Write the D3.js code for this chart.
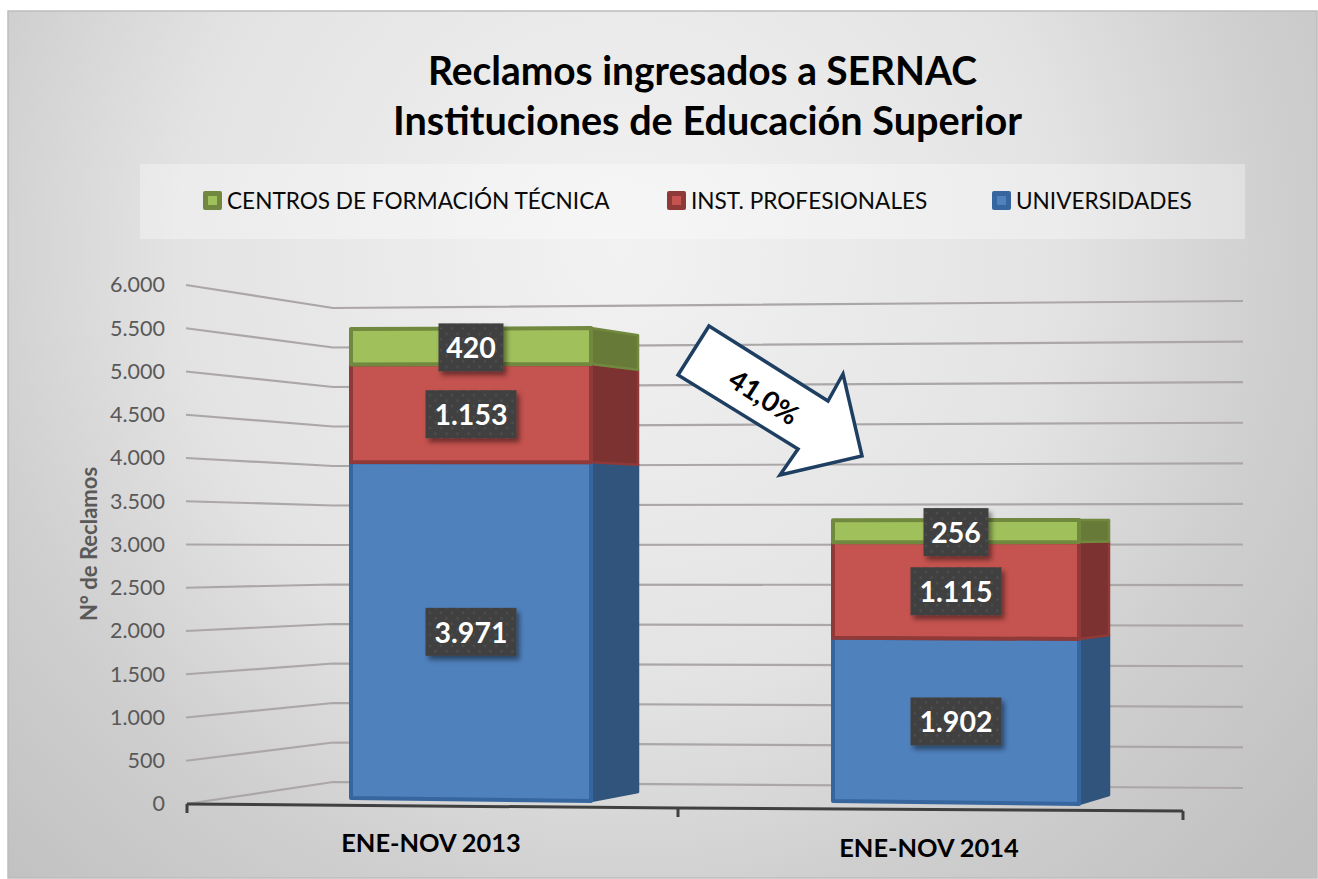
<!DOCTYPE html>
<html>
<head>
<meta charset="utf-8">
<script src="https://cdnjs.cloudflare.com/ajax/libs/d3/7.8.5/d3.min.js"></script>
<style>
  html, body { margin: 0; padding: 0; background: #fff; }
  svg { display: block; font-family: Lato, "Open Sans", sans-serif; }
</style>
</head>
<body>
<svg id="chart" width="1318" height="879"></svg>
<script>
const periods = ['ENE-NOV 2013', 'ENE-NOV 2014'];
const seriesNames = ['UNIVERSIDADES', 'INST. PROFESIONALES', 'CENTROS DE FORMACIÓN TÉCNICA'];
const universidades = [3971, 1902];
const institutos = [1153, 1115];
const centros = [420, 256];
const yTicks = [0, 500, 1000, 1500, 2000, 2500, 3000, 3500, 4000, 4500, 5000, 5500, 6000];
const titleLines = ['Reclamos ingresados a SERNAC', 'Instituciones de Educación Superior'];

const faceColors = ['#4f81bd', '#c5534f', '#a0c05c'];
const edgeColors = ['#37659e', '#8f3a38', '#71893f'];
const sideColors = ['#31547d', '#7c3230', '#677a38'];

const svg = d3.select('#chart');
const defs = svg.append('defs');

const bg = defs.append('radialGradient')
    .attr('id', 'bg-gradient')
    .attr('gradientUnits', 'userSpaceOnUse')
    .attr('cx', 620).attr('cy', 250).attr('r', 900);
bg.append('stop').attr('offset', '0%').attr('stop-color', '#f2f2f2');
bg.append('stop').attr('offset', '49%').attr('stop-color', '#e3e3e3');
bg.append('stop').attr('offset', '73%').attr('stop-color', '#cfcfcf');
bg.append('stop').attr('offset', '100%').attr('stop-color', '#c0c0c0');

const dots = defs.append('pattern')
    .attr('id', 'label-dots')
    .attr('patternUnits', 'userSpaceOnUse')
    .attr('width', 11).attr('height', 11);
dots.append('rect').attr('width', 11).attr('height', 11).attr('fill', '#404040');
dots.append('circle').attr('cx', 3).attr('cy', 3).attr('r', 1.3).attr('fill', '#4e4e4e');
dots.append('circle').attr('cx', 8.5).attr('cy', 8.5).attr('r', 1.3).attr('fill', '#4e4e4e');

const shadow = defs.append('filter')
    .attr('id', 'label-shadow')
    .attr('x', '-20%').attr('y', '-20%')
    .attr('width', '150%').attr('height', '150%');
shadow.append('feDropShadow')
    .attr('dx', 3).attr('dy', 4)
    .attr('stdDeviation', 2.5)
    .attr('flood-color', '#000')
    .attr('flood-opacity', 0.45);

// background panel
svg.append('rect')
    .attr('x', 8).attr('y', 11)
    .attr('width', 1309).attr('height', 867)
    .attr('fill', 'url(#bg-gradient)')
    .attr('stroke', '#bdbdbd')
    .attr('stroke-width', 1.5);

// title
svg.append('g').selectAll('text')
    .data(titleLines)
    .join('text')
    .attr('x', (d, i) => i === 0 ? 702.5 : 707.5)
    .attr('y', (d, i) => i === 0 ? 85 : 135)
    .attr('text-anchor', 'middle')
    .attr('font-size', 39.5)
    .attr('font-weight', 700)
    .attr('fill', '#000')
    .attr('textLength', (d, i) => i === 0 ? 549 : 629)
    .attr('lengthAdjust', 'spacingAndGlyphs')
    .text(d => d);

// legend band
svg.append('rect')
    .attr('x', 140).attr('y', 164)
    .attr('width', 1105).attr('height', 75)
    .attr('fill', '#fff').attr('opacity', 0.32);

const legendX = d3.scaleOrdinal().domain(seriesNames).range([992, 667, 203]);
const legendItems = svg.append('g').selectAll('g')
    .data(seriesNames)
    .join('g')
    .attr('transform', d => `translate(${legendX(d)},191)`);
legendItems.append('rect')
    .attr('width', 19).attr('height', 19).attr('rx', 2)
    .attr('fill', (d, i) => edgeColors[i]);
legendItems.append('rect')
    .attr('x', 5).attr('y', 5)
    .attr('width', 9).attr('height', 9)
    .attr('fill', (d, i) => faceColors[i]);
legendItems.append('text')
    .attr('x', 24).attr('y', 18)
    .attr('font-size', 22.6)
    .attr('fill', '#0a0a0a')
    .text(d => d);

// the three planes of the fake 3D floor: front edge, back-left corner, back-right end
const yFront = d3.scaleLinear().domain([0, 6000]).range([804, 285]);
const yCorner = d3.scaleLinear().domain([0, 6000]).range([782, 308]);
const yEnd = d3.scaleLinear().domain([0, 6000]).range([788, 301]);

const gridLine = d3.line().x(d => d[0]).y(d => d[1]);
svg.append('g').selectAll('path')
    .data(yTicks)
    .join('path')
    .attr('d', v => gridLine([[186, yFront(v)], [333, yCorner(v)], [1243, yEnd(v)]]))
    .attr('fill', 'none')
    .attr('stroke', '#aca7a7')
    .attr('stroke-width', 2.2);

// y axis labels
const numberLocale = d3.formatLocale({ decimal: ',', thousands: '.', grouping: [3], currency: ['$', ''] });
const yAxis = svg.append('g')
    .attr('transform', 'translate(172,0)')
    .call(d3.axisLeft(yFront).tickValues(yTicks).tickSize(0).tickPadding(7).tickFormat(numberLocale.format(',')));
yAxis.select('.domain').remove();
yAxis.selectAll('text')
    .attr('font-family', 'Lato, "Open Sans", sans-serif')
    .attr('font-size', 21.5)
    .attr('fill', '#595959');

svg.append('text')
    .attr('transform', 'translate(97,544) rotate(-90)')
    .attr('text-anchor', 'middle')
    .attr('font-size', 22)
    .attr('font-weight', 700)
    .attr('fill', '#595959')
    .text('N° de Reclamos');

// x axis
const xAxisX = d3.scaleLinear().domain([0, 1, 2]).range([187, 678, 1183]);
const xAxisY = d3.scaleLinear().domain([0, 1, 2]).range([804, 808, 811]);
svg.append('path')
    .attr('d', gridLine([0, 1, 2].map(i => [xAxisX(i), xAxisY(i)])))
    .attr('fill', 'none').attr('stroke', '#404040').attr('stroke-width', 3);
svg.append('g').selectAll('line')
    .data([0, 1, 2])
    .join('line')
    .attr('x1', xAxisX).attr('x2', xAxisX)
    .attr('y1', xAxisY)
    .attr('y2', i => xAxisY(i) + 9)
    .attr('stroke', '#404040').attr('stroke-width', 3);

// bars: each one has its own scale per vertical edge since the plot is in perspective
const barGeometry = [
    { x0: 351, x1: 591, x2: 638, left: [798, 0.0846], right: [801, 0.0853], side: [792, 0.0824] },
    { x0: 833, x1: 1079, x2: 1109, left: [801, 0.0858], right: [804, 0.0868], side: [795, 0.0840] }
];
const edgeScale = e => d3.scaleLinear().domain([0, 1000]).range([e[0], e[0] - e[1] * 1000]);
const stackValues = periods.map((p, i) => ({ period: p, values: [universidades[i], institutos[i], centros[i]] }));
const stacked = stackValues.map(d => {
    let run = 0;
    return d.values.map(v => { const seg = [run, run + v, v]; run += v; return seg; });
});

const line = d3.line();
const barLayer = svg.append('g');
const labelLayer = svg.append('g');
stacked.forEach((segments, b) => {
    const g = barGeometry[b];
    const yL = edgeScale(g.left), yR = edgeScale(g.right), yS = edgeScale(g.side);
    const barG = barLayer.append('g');

    barG.selectAll('path.side')
        .data(segments)
        .join('path')
        .attr('class', 'side')
        .attr('d', s => line([[g.x1, yR(s[0])], [g.x2, yS(s[0])], [g.x2, yS(s[1])], [g.x1, yR(s[1])]]) + 'Z')
        .attr('fill', (s, i) => sideColors[i])
        .attr('stroke', (s, i) => i === 0 ? sideColors[i] : edgeColors[i])
        .attr('stroke-width', 2.5)
        .attr('stroke-linejoin', 'round');

    barG.selectAll('path.face')
        .data(segments)
        .join('path')
        .attr('class', 'face')
        .attr('d', s => line([[g.x0, yL(s[0])], [g.x1, yR(s[0])], [g.x1, yR(s[1])], [g.x0, yL(s[1])]]) + 'Z')
        .attr('fill', (s, i) => faceColors[i])
        .attr('stroke', (s, i) => edgeColors[i])
        .attr('stroke-width', 4)
        .attr('stroke-linejoin', 'round');

    const cx = (g.x0 + g.x1) / 2;
    const labels = labelLayer.selectAll(null)
        .data(segments)
        .join('g')
        .attr('transform', s => `translate(${cx},${(yL((s[0] + s[1]) / 2) + yR((s[0] + s[1]) / 2)) / 2 + 1})`);
    labels.append('rect')
        .attr('x', s => s[2] >= 1000 ? -45.5 : -32.5)
        .attr('y', -24)
        .attr('width', s => s[2] >= 1000 ? 91 : 65)
        .attr('height', 48)
        .attr('fill', 'url(#label-dots)')
        .attr('filter', 'url(#label-shadow)');
    labels.append('text')
        .attr('text-anchor', 'middle')
        .attr('y', 11)
        .attr('font-size', 28.5)
        .attr('font-weight', 700)
        .attr('fill', '#fff')
        .text(s => numberLocale.format(',')(s[2]));
});

// category labels
const catX = d3.scalePoint().domain(periods).range([431, 929]);
const catY = d3.scalePoint().domain(periods).range([852, 857]);
svg.append('g').selectAll('text')
    .data(periods)
    .join('text')
    .attr('x', catX)
    .attr('y', catY)
    .attr('text-anchor', 'middle')
    .attr('font-size', 25.4)
    .attr('font-weight', 700)
    .attr('fill', '#000')
    .text(d => d);

// callout arrow
svg.append('path')
    .attr('d', 'M709,326 L828,401 L843,374 L862,456 L780,475 L798,449 L678,375 Z')
    .attr('fill', '#fff')
    .attr('stroke', '#1f3f62')
    .attr('stroke-width', 3.5)
    .attr('stroke-linejoin', 'miter');
svg.append('text')
    .attr('transform', 'translate(764,397) rotate(33)')
    .attr('text-anchor', 'middle')
    .attr('dy', 10)
    .attr('font-size', 27.5)
    .attr('font-weight', 700)
    .attr('fill', '#000')
    .text('41,0%');
</script>
</body>
</html>
